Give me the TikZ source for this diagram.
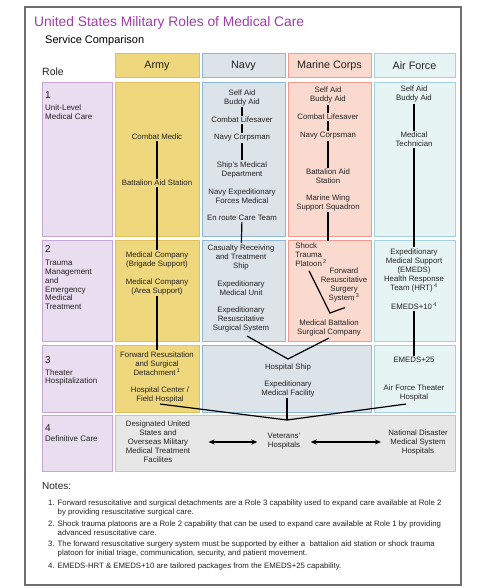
\documentclass[tikz,border=0pt]{standalone}
\usepackage{fontspec}
\setmainfont{Liberation Sans}
\usetikzlibrary{arrows.meta}
\definecolor{armyF}{RGB}{239,215,125}
\definecolor{armyD}{RGB}{226,192,96}
\definecolor{navyF}{RGB}{220,227,233}
\definecolor{navyD}{RGB}{140,184,214}
\definecolor{marF}{RGB}{250,218,206}
\definecolor{marD}{RGB}{238,156,146}
\definecolor{afF}{RGB}{231,244,244}
\definecolor{afD}{RGB}{160,208,226}
\definecolor{roleF}{RGB}{233,221,240}
\definecolor{roleD}{RGB}{198,165,217}
\definecolor{defF}{RGB}{231,231,231}
\definecolor{defD}{RGB}{200,198,172}
\definecolor{ttl}{RGB}{160,62,170}
\definecolor{framec}{RGB}{110,110,110}
\definecolor{txt}{RGB}{35,35,35}
\begin{document}
\begin{tikzpicture}[x=1pt,y=-1pt,
  cellbox/.style={line width=1pt},
  armybox/.style={cellbox,fill=armyF,draw=armyD},
  navybox/.style={cellbox,fill=navyF,draw=navyD},
  marbox/.style={cellbox,fill=marF,draw=marD},
  afbox/.style={cellbox,fill=afF,draw=afD},
  rolebox/.style={cellbox,fill=roleF,draw=roleD},
  defbox/.style={cellbox,fill=defF,draw=defD},
  hdr/.style={cellbox,minimum height=24pt,inner sep=0pt,font=\fontsize{10.8}{12}\selectfont,text=txt},
  t/.style={font=\fontsize{7.8}{9}\selectfont,align=center,inner sep=1.2pt,text=txt},
  rnum/.style={font=\fontsize{10}{12}\selectfont,anchor=west,inner sep=0pt,text=txt},
  rtxt/.style={font=\fontsize{8}{8.8}\selectfont,align=left,anchor=west,inner sep=0pt,text=txt},
  conn/.style={draw=black,line width=1.2pt},
  dbl/.style={draw=black,line width=1.4pt,{Stealth[length=6pt,width=5pt]}-{Stealth[length=6pt,width=5pt]}},
  note/.style={font=\fontsize{7.8}{9}\selectfont,align=left,anchor=north west,inner sep=0pt,text=txt}
]
\useasboundingbox (0,0) rectangle (497,588);
\fill[white] (0,0) rectangle (497,588);
% frame
\draw[framec,line width=1.6pt,fill=white] (25,7) rectangle (461,585);
% title
\node[anchor=west,inner sep=0pt,text=ttl,font=\fontsize{13.8}{15}\selectfont] (title) at (34,23) {United States Military Roles of Medical Care};
\node[anchor=west,inner sep=0pt,text=black,font=\fontsize{11}{13}\selectfont] (sub) at (45,41) {Service Comparison};
\node[anchor=west,inner sep=0pt,text=txt,font=\fontsize{10.5}{12}\selectfont] (role) at (42,72) {Role};
% headers
\node[hdr,armybox,minimum width=84pt] (hArmy) at (157,66) {Army};
\node[hdr,navybox,minimum width=83pt] (hNavy) at (243.5,66) {Navy};
\node[hdr,marbox,minimum width=83pt] (hMar) at (329.5,66) {Marine Corps};
\node[hdr,afbox,minimum width=81pt] (hAF) at (414.5,66) {Air Force};
% role boxes
\draw[rolebox] (42,83) rectangle (112,236);
\draw[rolebox] (42,240) rectangle (112,341);
\draw[rolebox] (42,345) rectangle (112,412);
\draw[rolebox] (42,415) rectangle (112,471);
% row 1
\draw[armybox] (115,83) rectangle (199,236);
\draw[navybox] (202,83) rectangle (285,236);
\draw[marbox] (288,83) rectangle (371,236);
\draw[afbox] (374,83) rectangle (455,236);
% row 2
\draw[armybox] (115,240) rectangle (199,341);
\draw[navybox] (202,240) rectangle (285,341);
\draw[marbox] (288,240) rectangle (371,341);
\draw[afbox] (374,240) rectangle (455,341);
% row 3
\draw[armybox] (115,345) rectangle (199,412);
\draw[navybox] (202,345) rectangle (371,412);
\draw[afbox] (374,345) rectangle (455,412);
% row 4
\draw[defbox] (115,415) rectangle (455,471);
% role labels
\node[rnum] (r1n) at (45,95) {1};
\node[rtxt] (r1t) at (45,112.5) {Unit-Level\\Medical Care};
\node[rnum] (r2n) at (45,249) {2};
\node[rtxt] (r2t) at (45,285) {Trauma\\Management\\and\\Emergency\\Medical\\Treatment};
\node[rnum] (r3n) at (45,360) {3};
\node[rtxt] (r3t) at (45,377.5) {Theater\\Hospitalization};
\node[rnum] (r4n) at (45,428) {4};
\node[rtxt] (r4t) at (45,439) {Definitive Care};
% Army
\node[t] (cm) at (157,137) {Combat Medic};
\node[t] (bas) at (157,183) {Battalion Aid Station};
\node[t] (mcb) at (157,259.5) {Medical Company\\(Brigade Support)};
\node[t] (mca) at (157,286.5) {Medical Company\\(Area Support)};
\node[t] (frsd) at (157,363.5) {Forward Resusitation\\and Surgical\\Detachment\,\textsuperscript{1}};
\node[t] (fh) at (160,394.5) {Hospital Center /\\Field Hospital};
\draw[conn] (cm) -- (bas);
\draw[conn] (bas) -- (mcb.north);
\draw[conn] (mca) -- (frsd);
% Navy
\node[t] (nsa) at (242,97.5) {Self Aid\\Buddy Aid};
\node[t] (ncl) at (242,120) {Combat Lifesaver};
\node[t] (ncp) at (242,138) {Navy Corpsman};
\node[t] (nsmd) at (242,170) {Ship's Medical\\Department};
\node[t] (nefm) at (242,196.5) {Navy Expeditionary\\Forces Medical};
\node[t] (nect) at (242,218) {En route Care Team};
\node[t] (ncrts) at (241,257) {Casualty Receiving\\and Treatment\\Ship};
\node[t] (nemu) at (241,288.5) {Expeditionary\\Medical Unit};
\node[t] (nerss) at (241,319) {Expeditionary\\Resuscitative\\Surgical System};
\draw[conn] (nsa) -- (ncl);
\draw[conn] (ncl) -- (ncp);
\draw[conn] (ncp) -- (nsmd);
\draw[conn] (nect) -- (ncrts);
% Marine Corps
\node[t] (msa) at (328,95) {Self Aid\\Buddy Aid};
\node[t] (mcl) at (328,117) {Combat Lifesaver};
\node[t] (mcp) at (328,136) {Navy Corpsman};
\node[t] (mbas) at (328,176.5) {Battalion Aid\\Station};
\node[t] (mwss) at (328,202.5) {Marine Wing\\Support Squadron};
\node[t,align=left,anchor=west] (stp) at (294,254.5) {Shock\\Trauma\\Platoon\,\textsuperscript{2}};
\node[t] (frss) at (344,285) {Forward\\Resuscitative\\Surgery\\System\,\textsuperscript{3}};
\node[t] (mbsc) at (329,327.5) {Medical Battalion\\Surgical Company};
\draw[conn] (msa) -- (mcl);
\draw[conn] (mcl) -- (mcp);
\draw[conn] (mcp) -- (mbas);
\draw[conn] (mwss.south) -- (mwss.south |- stp.north);
\coordinate (vtx) at (330,313);
\draw[conn] ([xshift=-2pt,yshift=-3pt]stp.south) -- (vtx) -- ([xshift=1pt,yshift=-4pt]frss.south);
% Air Force
\node[t] (asa) at (414,94) {Self Aid\\Buddy Aid};
\node[t] (atech) at (414,139.5) {Medical\\Technician};
\node[t] (emeds) at (414,270) {Expeditionary\\Medical Support\\(EMEDS)\\Health Response\\Team (HRT)\,\textsuperscript{4}};
\node[t] (e10) at (414,306) {EMEDS+10\,\textsuperscript{4}};
\node[t] (e25) at (414,360) {EMEDS+25};
\node[t] (aft) at (414,392.5) {Air Force Theater\\Hospital};
\draw[conn] (asa) -- (atech);
\draw[conn] (atech) -- (emeds);
\draw[conn] (e10) -- (e25);
% Row 3 Navy/Marine
\node[t] (hs) at (288,367) {Hospital Ship};
\node[t] (emf) at (288,388.5) {Expeditionary\\Medical Facility};
\coordinate (hsv) at (288,359);
\draw[conn] ([xshift=6pt,yshift=-3pt]nerss.south) -- (hsv) -- ([yshift=-1pt]mbsc.south);
% convergence to row 4
\coordinate (conv) at (287,420);
\draw[conn] (fh.south) -- (conv) -- ([xshift=-8pt,yshift=-2pt]aft.south);
\draw[conn] ([xshift=-1pt]emf.south) -- (conv);
% Row 4
\node[t] (dus) at (158,441.5) {Designated United\\States and\\Overseas Military\\Medical Treatment\\Facilites};
\node[t] (vh) at (284,441.5) {Veterans'\\Hospitals};
\node[t] (nd) at (418,442) {National Disaster\\Medical System\\Hospitals};
\draw[dbl,shorten <=17pt,shorten >=9pt] (dus.east |- 0,442) -- (vh.west |- 0,442);
\draw[dbl,shorten <=9pt,shorten >=6pt] (vh.east |- 0,442) -- (nd.west |- 0,442);
% Notes
\node[anchor=west,inner sep=0pt,text=txt,font=\fontsize{10}{12}\selectfont] (notes) at (42,486) {Notes:};
\node[note] (n1n) at (48,499.5) {1.};
\node[note] (n1) at (57.5,499.5) {Forward resuscitative and surgical detachments are a Role 3 capability used to expand care available at Role 2\\by providing resuscitative surgical care.};
\node[note] (n2n) at (48,520.5) {2.};
\node[note] (n2) at (57.5,520.5) {Shock trauma platoons are a Role 2 capability that can be used to expand care available at Role 1 by providing\\advanced resuscitative care.};
\node[note] (n3n) at (48,540.5) {3.};
\node[note] (n3) at (57.5,540.5) {The forward resuscitative surgery system must be supported by either a\ \ battalion aid station or shock trauma\\platoon for initial triage, communication, security, and patient movement.};
\node[note] (n4n) at (48,562.5) {4.};
\node[note] (n4) at (57.5,562.5) {EMEDS-HRT \& EMEDS+10 are tailored packages from the EMEDS+25 capability.};
\end{tikzpicture}
\end{document}
